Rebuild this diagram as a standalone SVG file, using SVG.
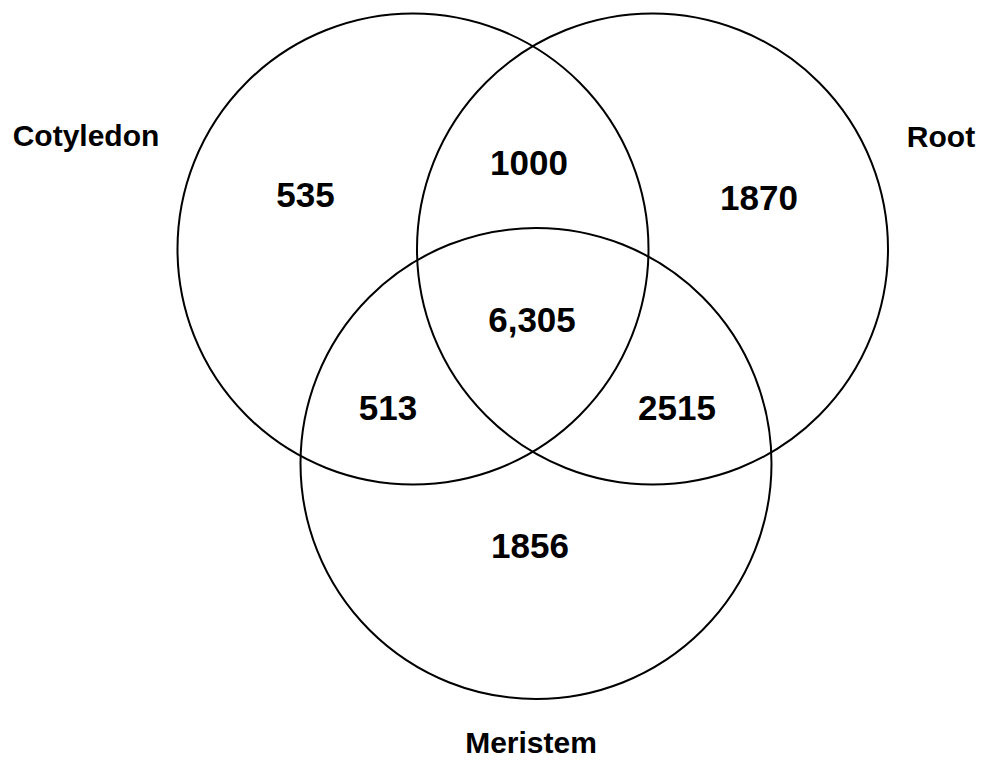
<svg xmlns="http://www.w3.org/2000/svg" width="988" height="761" viewBox="0 0 988 761">
<style>
.c{fill:none;stroke:#000;stroke-width:2}
.n{font-family:"Liberation Sans",Arial,sans-serif;font-weight:bold;font-size:35px;text-anchor:middle;fill:#000}
.l{font-family:"Liberation Sans",Arial,sans-serif;font-weight:bold;font-size:30px;text-anchor:middle;fill:#000}
</style>
<rect width="988" height="761" fill="#fff"/>
<g id="cotyledon">
<circle class="c" cx="413" cy="249" r="235.5"/>
<text class="l" x="86" y="146">Cotyledon</text>
</g>
<g id="root">
<circle class="c" cx="652.5" cy="249" r="235.5"/>
<text class="l" x="941" y="147">Root</text>
</g>
<g id="meristem">
<circle class="c" cx="536" cy="463.5" r="235.5"/>
<text class="l" x="531" y="753">Meristem</text>
</g>
<g id="counts">
<text class="n" x="305.5" y="207">535</text>
<text class="n" x="529" y="175">1000</text>
<text class="n" x="759" y="210">1870</text>
<text class="n" x="532" y="332">6,305</text>
<text class="n" x="388" y="420">513</text>
<text class="n" x="677" y="420">2515</text>
<text class="n" x="530" y="558">1856</text>
</g>
</svg>
